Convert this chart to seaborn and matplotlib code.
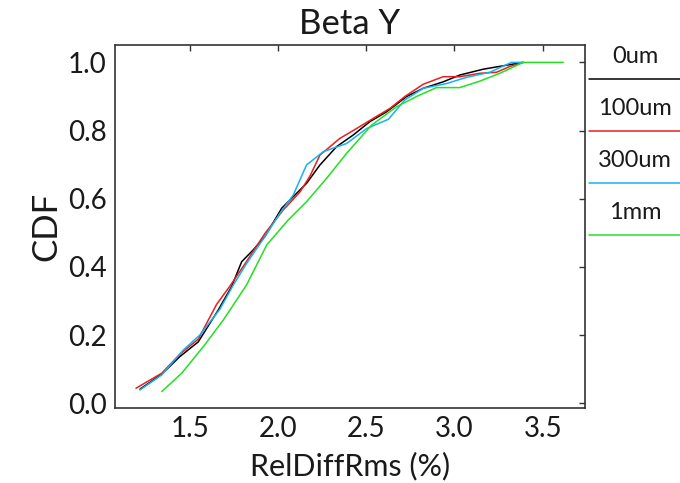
"""CDF of RelDiffRms for Beta Y, four misalignment levels."""
import numpy as np
import pandas as pd
import matplotlib
matplotlib.use("Agg")
import matplotlib.pyplot as plt
from matplotlib.lines import Line2D
import seaborn as sns

# --- data ------------------------------------------------------------------
labels = ["0um", "100um", "300um", "1mm"]
colors = ["#000000", "#ee1c1c", "#10b4f5", "#22e022"]

x_0um = [1.216, 1.34, 1.443, 1.547, 1.661, 1.736, 1.793, 1.859, 1.925, 2.02,
         2.105, 2.161, 2.237, 2.332, 2.426, 2.52, 2.615, 2.729, 2.823, 2.936,
         3.031, 3.163, 3.276, 3.39]
y_0um = [0.041, 0.085, 0.137, 0.18, 0.274, 0.342, 0.415, 0.45, 0.489, 0.572,
         0.616, 0.645, 0.699, 0.753, 0.787, 0.826, 0.855, 0.90, 0.924, 0.943,
         0.963, 0.98, 0.99, 1.0]

x_100um = [1.194, 1.34, 1.443, 1.547, 1.651, 1.727, 1.812, 1.925, 2.029, 2.124,
           2.181, 2.237, 2.35, 2.445, 2.54, 2.634, 2.719, 2.823, 2.936, 3.03,
           3.144, 3.238, 3.314, 3.39]
y_100um = [0.044, 0.088, 0.144, 0.188, 0.29, 0.344, 0.409, 0.498, 0.567, 0.62,
           0.667, 0.728, 0.777, 0.806, 0.836, 0.865, 0.90, 0.936, 0.958, 0.958,
           0.968, 0.971, 0.988, 1.0]

x_300um = [1.216, 1.34, 1.462, 1.556, 1.67, 1.746, 1.821, 1.925, 2.01, 2.086,
           2.161, 2.256, 2.388, 2.502, 2.625, 2.719, 2.823, 2.955, 3.068, 3.2,
           3.323, 3.39]
y_300um = [0.039, 0.083, 0.156, 0.2, 0.276, 0.347, 0.41, 0.489, 0.557, 0.611,
           0.699, 0.738, 0.762, 0.806, 0.833, 0.89, 0.924, 0.938, 0.956, 0.971,
           1.0, 1.0]

x_1mm = [1.34, 1.453, 1.576, 1.689, 1.821, 1.935, 2.058, 2.161, 2.275, 2.388,
         2.53, 2.672, 2.785, 2.898, 3.03, 3.144, 3.257, 3.39, 3.617]
y_1mm = [0.034, 0.088, 0.166, 0.244, 0.347, 0.464, 0.538, 0.591, 0.66, 0.733,
         0.816, 0.87, 0.90, 0.926, 0.926, 0.945, 0.968, 1.0, 1.0]

xs = [x_0um, x_100um, x_300um, x_1mm]
ys = [y_0um, y_100um, y_300um, y_1mm]

df = pd.concat(
    [pd.DataFrame({"x": x, "y": y, "run": lab}) for x, y, lab in zip(xs, ys, labels)],
    ignore_index=True,
)

# --- style -----------------------------------------------------------------
sns.set_style("white")
plt.rcParams["font.family"] = ["Lato", "DejaVu Sans"]
txt = "#1a1a1a"
edge = "#333333"

fig = plt.figure(figsize=(6.8, 4.83), dpi=100)
ax = fig.add_axes([115 / 680, 75 / 483, 470 / 680, 363 / 483])

sns.lineplot(data=df, x="x", y="y", hue="run", palette=colors,
             estimator=None, sort=False, legend=False, lw=1.1, ax=ax)

ax.set_xlim(1.075, 3.74)
ax.set_ylim(-0.014, 1.051)
ax.set_xticks([1.5, 2.0, 2.5, 3.0, 3.5])
ax.set_yticks([0.0, 0.2, 0.4, 0.6, 0.8, 1.0])
ax.xaxis.set_major_formatter(matplotlib.ticker.FormatStrFormatter("%.1f"))
ax.yaxis.set_major_formatter(matplotlib.ticker.FormatStrFormatter("%.1f"))
ax.tick_params(direction="in", length=4, width=1, color=edge, labelsize=20,
               labelcolor=txt, top=True, right=True, pad=6)
for s in ax.spines.values():
    s.set_color(edge)
    s.set_linewidth(1.2)

ax.set_title("Beta Y", fontsize=25, color=txt, pad=8)
ax.set_xlabel("RelDiffRms (%)", fontsize=22, color=txt, labelpad=7)
ax.set_ylabel("CDF", fontsize=25, color=txt, labelpad=4)

# legend drawn at the right edge: label above a short line
for i, (lab, c) in enumerate(zip(labels, colors)):
    yl = 1 - (79 + 52 * i) / 483
    fig.add_artist(Line2D([589 / 680, 1.0], [yl, yl], color=c, lw=1.1,
                          transform=fig.transFigure))
    fig.text(635 / 680, yl + 16 / 483, lab, ha="center", va="baseline",
             fontsize=17, color=txt)

fig.savefig("out.png", dpi=100)
